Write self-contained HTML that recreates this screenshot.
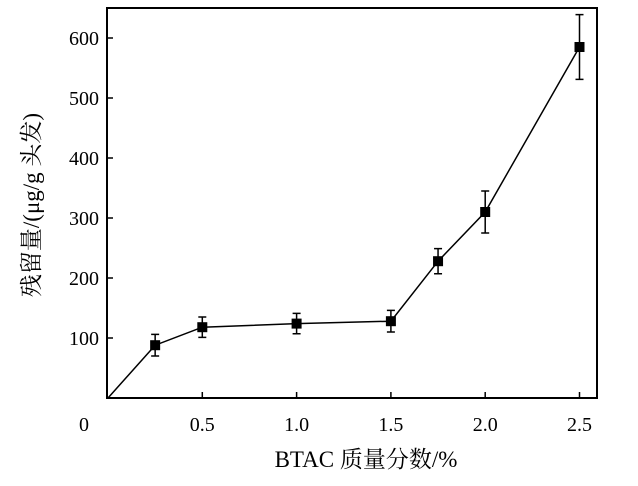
<!DOCTYPE html>
<html><head><meta charset="utf-8"><style>
body{margin:0;background:#fff}
text{font-family:"Liberation Serif","Noto Serif CJK SC",serif;fill:#000}
</style></head><body>
<svg id="c" width="638" height="481" xmlns="http://www.w3.org/2000/svg"></svg>
<script>
const xs=[0,0.25,0.5,1.0,1.5,1.75,2.0,2.5];
const ys=[0,88,118,124,128,228,310,585];
const errs=[0,18,17,17,18,21,35,54];
const xTicks=[0.5,1.0,1.5,2.0,2.5];
const xTickLabels=["0.5","1.0","1.5","2.0","2.5"];
const yTicks=[100,200,300,400,500,600];
const L=107,R=597,T=8,B=398;
const X=v=>108+v*188.6;
const Y=v=>B-v*0.6;
const s=document.getElementById('c');
const NS="http://www.w3.org/2000/svg";
function mk(t,a,p){const e=document.createElementNS(NS,t);for(const k in a)e.setAttribute(k,a[k]);(p||s).appendChild(e);return e;}
let e=mk('rect',{x:L,y:T,width:R-L,height:B-T,fill:'none',stroke:'#000','stroke-width':2});

yTicks.forEach(v=>{
 let t=mk('line',{x1:L,x2:L+6,y1:Y(v),y2:Y(v),stroke:'#000','stroke-width':1.5});
 
 let l=mk('text',{x:L-8,y:Y(v)+7,'text-anchor':'end','font-size':20});l.textContent=v;
 
});
xTicks.forEach((v,i)=>{
 let t=mk('line',{x1:X(v),x2:X(v),y1:B,y2:B-6,stroke:'#000','stroke-width':1.5});
 
 let l=mk('text',{x:X(v),y:431,'text-anchor':'middle','font-size':20});l.textContent=xTickLabels[i];
 
});
let z=mk('text',{x:84,y:431,'text-anchor':'middle','font-size':20});z.textContent='0';

let p=mk('polyline',{points:xs.map((v,i)=>X(v)+','+Y(ys[i])).join(' '),fill:'none',stroke:'#000','stroke-width':1.5});

xs.forEach((v,i)=>{
 if(i===0)return;
 const cx=X(v),y1=Y(ys[i]-errs[i]),y2=Y(ys[i]+errs[i]);
 let g=mk('path',{d:`M${cx},${y1}V${y2}M${cx-4},${y1}H${cx+4}M${cx-4},${y2}H${cx+4}`,stroke:'#000','stroke-width':1.5,fill:'none'});
 
 let m=mk('rect',{x:cx-5,y:Y(ys[i])-5,width:10,height:10,fill:'#000'});
 
});
let xt=mk('text',{x:366,y:467,'text-anchor':'middle','font-size':23});xt.textContent='BTAC 质量分数/%';

let yt=mk('text',{x:0,y:0,'text-anchor':'middle','font-size':23,fill:'#222',transform:'translate(39,205) rotate(-90)'});yt.textContent='残留量/(μg/g 头发)';

</script>
</body></html>
